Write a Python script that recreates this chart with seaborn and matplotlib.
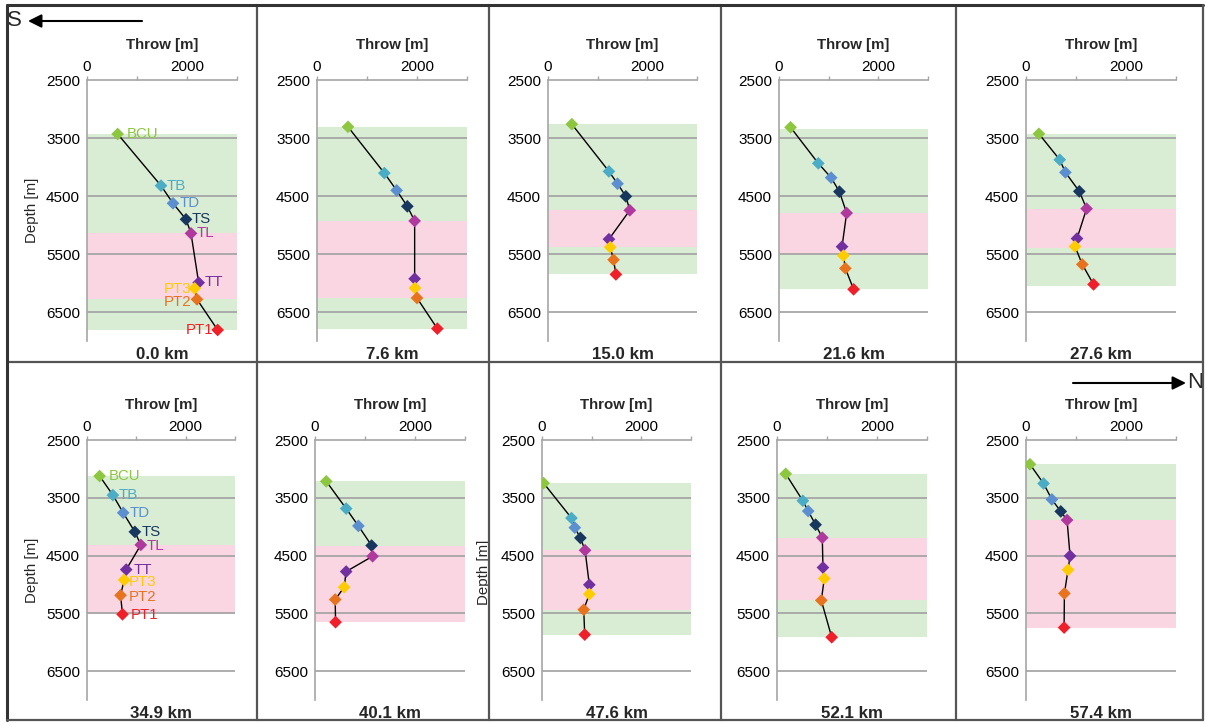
import numpy as np
import pandas as pd
import matplotlib
matplotlib.use("Agg")
import matplotlib.pyplot as plt
from matplotlib.lines import Line2D
import seaborn as sns

# ---------------- data ----------------
horizons = ["BCU", "TB", "TD", "TS", "TL", "TT", "PT3", "PT2", "PT1"]
horizon_colors = ["#8DC63F", "#4BACC6", "#5B8FD0", "#17375E", "#B0399E",
                  "#7030A0", "#FFCC00", "#E8731E", "#F0202A"]
distances = ["0.0 km", "7.6 km", "15.0 km", "21.6 km", "27.6 km",
             "34.9 km", "40.1 km", "47.6 km", "52.1 km", "57.4 km"]

throw_00 = [613, 1480, 1720, 1980, 2080, 2233, 2153, 2200, 2613]
depth_00 = [3431, 4322, 4626, 4902, 5144, 5994, 6092, 6282, 6810]
throw_07 = [620, 1347, 1593, 1807, 1953, 1953, 1960, 2000, 2407]
depth_07 = [3308, 4105, 4403, 4678, 4930, 5927, 6087, 6259, 6787]
throw_15 = [480, 1227, 1400, 1567, 1647, 1227, 1253, 1320, 1367]
depth_15 = [3262, 4076, 4288, 4506, 4746, 5245, 5383, 5600, 5852]
throw_21 = [233, 791, 1050, 1216, 1362, 1269, 1296, 1336, 1502]
depth_21 = [3316, 3937, 4184, 4425, 4793, 5374, 5529, 5747, 6109]
throw_27 = [258, 675, 788, 1066, 1212, 1020, 980, 1126, 1351]
depth_27 = [3428, 3875, 4093, 4420, 4718, 5234, 5371, 5680, 6024]
throw_34 = [256, 525, 734, 970, 1091, 795, 754, 680, 720]
depth_34 = [3124, 3454, 3760, 4090, 4315, 4743, 4922, 5188, 5517]
throw_40 = [225, 623, 868, 1132, 1152, 623, 583, 404, 411]
depth_40 = [3215, 3687, 3987, 4327, 4512, 4777, 5048, 5261, 5653]
throw_47 = [33, 593, 660, 773, 867, 953, 953, 840, 860]
depth_47 = [3247, 3851, 4017, 4195, 4408, 5006, 5167, 5437, 5868]
throw_52 = [174, 517, 624, 772, 906, 919, 946, 886, 1094]
depth_52 = [3086, 3552, 3730, 3966, 4190, 4707, 4897, 5276, 5914]
throw_57 = [79, 351, 517, 695, 821, 881, 841, 768, 762]
depth_57 = [2920, 3253, 3529, 3736, 3885, 4506, 4747, 5155, 5747]

green_top = [3431, 3308, 3262, 3350, 3430, 3124, 3215, 3247, 3086, 2920]
green_bottom = [6810, 6787, 5852, 6110, 6050, 4315, 4327, 5868, 5914, 3885]
pink_top = [5144, 4930, 4746, 4793, 4718, 4315, 4327, 4408, 4190, 3885]
pink_bottom = [6282, 6259, 5383, 5500, 5390, 5517, 5653, 5437, 5276, 5747]

throws = [throw_00, throw_07, throw_15, throw_21, throw_27,
          throw_34, throw_40, throw_47, throw_52, throw_57]
depths = [depth_00, depth_07, depth_15, depth_21, depth_27,
          depth_34, depth_40, depth_47, depth_52, depth_57]

x_ticks = [0, 2000]
y_ticks = [2500, 3500, 4500, 5500, 6500]

# ---------------- style ----------------
sns.set_style("white")
plt.rcParams["font.family"] = ["Liberation Sans", "DejaVu Sans"]

W, H = 1206, 723
fig = plt.figure(figsize=(W / 100, H / 100), dpi=100)

# axes boxes in pixels: (left, right, top, bottom)
boxes = [(87, 237, 80, 341), (317, 467, 80, 341), (548, 697, 80, 341),
         (779, 928, 80, 341), (1026, 1176, 80, 341),
         (87, 235, 440, 700), (315, 465, 440, 700), (542, 691, 440, 700),
         (777, 927, 440, 700), (1026, 1176, 440, 700)]

green_c = "#D9EDD4"
pink_c = "#F9D6E2"
axis_c = "#A6A6A6"

# label offsets (pixels) for annotated panels
label_offsets = {
    0: [(9, 0), (6, 0), (7, 0), (6, 0), (6, 0), (6, 1), (-3, -1), (-6, -3), (-4, 0)],
    5: [(9, 0), (6, 0), (6, 0), (7, 0), (6, -1), (7, 0), (5, -2), (8, -2), (8, -1)],
}

for i, (l, r, t, b) in enumerate(boxes):
    ax = fig.add_axes([l / W, 1 - b / H, (r - l) / W, (b - t) / H])
    ax.set_facecolor("none")
    ax.set_xlim(0, 3000)
    ax.set_ylim(7000, 2500)

    ax.axhspan(green_top[i], green_bottom[i], color=green_c, lw=0, zorder=0)
    ax.axhspan(pink_top[i], pink_bottom[i], color=pink_c, lw=0, zorder=0.5)
    for yg in y_ticks[1:]:
        ax.axhline(yg, color="#A0A0A0", lw=1.2, zorder=1)

    df = pd.DataFrame({"throw": throws[i], "depth": depths[i], "horizon": horizons})
    sns.lineplot(data=df, x="throw", y="depth", sort=False, estimator=None,
                 color="black", lw=1.0, ax=ax, zorder=2)
    sns.scatterplot(data=df, x="throw", y="depth", hue="horizon",
                    palette=dict(zip(horizons, horizon_colors)), marker="D",
                    s=42, linewidth=0, legend=False, ax=ax, zorder=3)

    if i in label_offsets:
        for j, h in enumerate(horizons):
            dx, dy = label_offsets[i][j]
            ha = "left" if dx > 0 else "right"
            ax.annotate(h, (throws[i][j], depths[i][j]), xytext=(dx * 0.72, dy * 0.72),
                        textcoords="offset points", ha=ha, va="center",
                        fontsize=10.8, color=horizon_colors[j], zorder=4)

    ax.xaxis.tick_top()
    ax.xaxis.set_label_position("top")
    ax.set_xticks([0, 1000, 2000, 3000])
    ax.set_xticklabels(["0", "", "2000", ""])
    ax.set_yticks(np.arange(2500, 7001, 500))
    ax.set_yticklabels([str(v) if v in y_ticks else "" for v in np.arange(2500, 7001, 500)])
    ax.tick_params(axis="both", direction="out", length=3, width=1, color=axis_c,
                   labelsize=11, labelcolor="black", pad=2)
    ax.tick_params(axis="x", pad=1)

    for side in ["right", "bottom"]:
        ax.spines[side].set_visible(False)
    for side in ["left", "top"]:
        ax.spines[side].set_color(axis_c)
        ax.spines[side].set_linewidth(1.2)

    ax.set_xlabel("Throw [m]", fontsize=10.8, fontweight="bold", labelpad=8)
    if i in (0, 5):
        ax.set_ylabel("Depth [m]", fontsize=10.8, labelpad=5)
    else:
        ax.set_ylabel("")

    ax.text(0.5, -0.022, distances[i], transform=ax.transAxes, ha="center", va="top",
            fontsize=12.2, fontweight="bold")

# stray depth label between panels
fig.text(484 / W, 1 - 572 / H, "Depth [m]", rotation=90, ha="center", va="center",
         fontsize=10.8)

# ---------------- cell frame ----------------
def fline(x0, y0, x1, y1, lw=1.6, c="#555555"):
    fig.add_artist(Line2D([x0 / W, x1 / W], [1 - y0 / H, 1 - y1 / H], color=c, lw=lw, zorder=10))

for xv in (257, 489, 721, 956):
    fline(xv, 5, xv, 720)
fline(7, 362, 1203, 362)
fline(7, 5, 1203, 5, lw=2.2, c="#333333")
fline(7, 5, 7, 720, lw=2.2, c="#333333")
fline(1203, 5, 1203, 720, lw=1.6)
fline(7, 720, 1203, 720, lw=1.6)

# ---------------- direction arrows ----------------
fig.add_artist(matplotlib.patches.FancyArrowPatch(
    (142 / W, 1 - 21 / H), (28 / W, 1 - 21 / H), transform=fig.transFigure,
    arrowstyle="-|>,head_length=8,head_width=4", color="black", lw=1.5,
    mutation_scale=1, shrinkA=0, shrinkB=0))
fig.text(14 / W, 1 - 21 / H, "S", ha="center", va="center", fontsize=16)

fig.add_artist(matplotlib.patches.FancyArrowPatch(
    (1073 / W, 1 - 383 / H), (1186 / W, 1 - 383 / H), transform=fig.transFigure,
    arrowstyle="-|>,head_length=8,head_width=4", color="black", lw=1.5,
    mutation_scale=1, shrinkA=0, shrinkB=0))
fig.text(1195 / W, 1 - 383 / H, "N", ha="center", va="center", fontsize=16)

fig.savefig("out.png", dpi=100, facecolor="white")
